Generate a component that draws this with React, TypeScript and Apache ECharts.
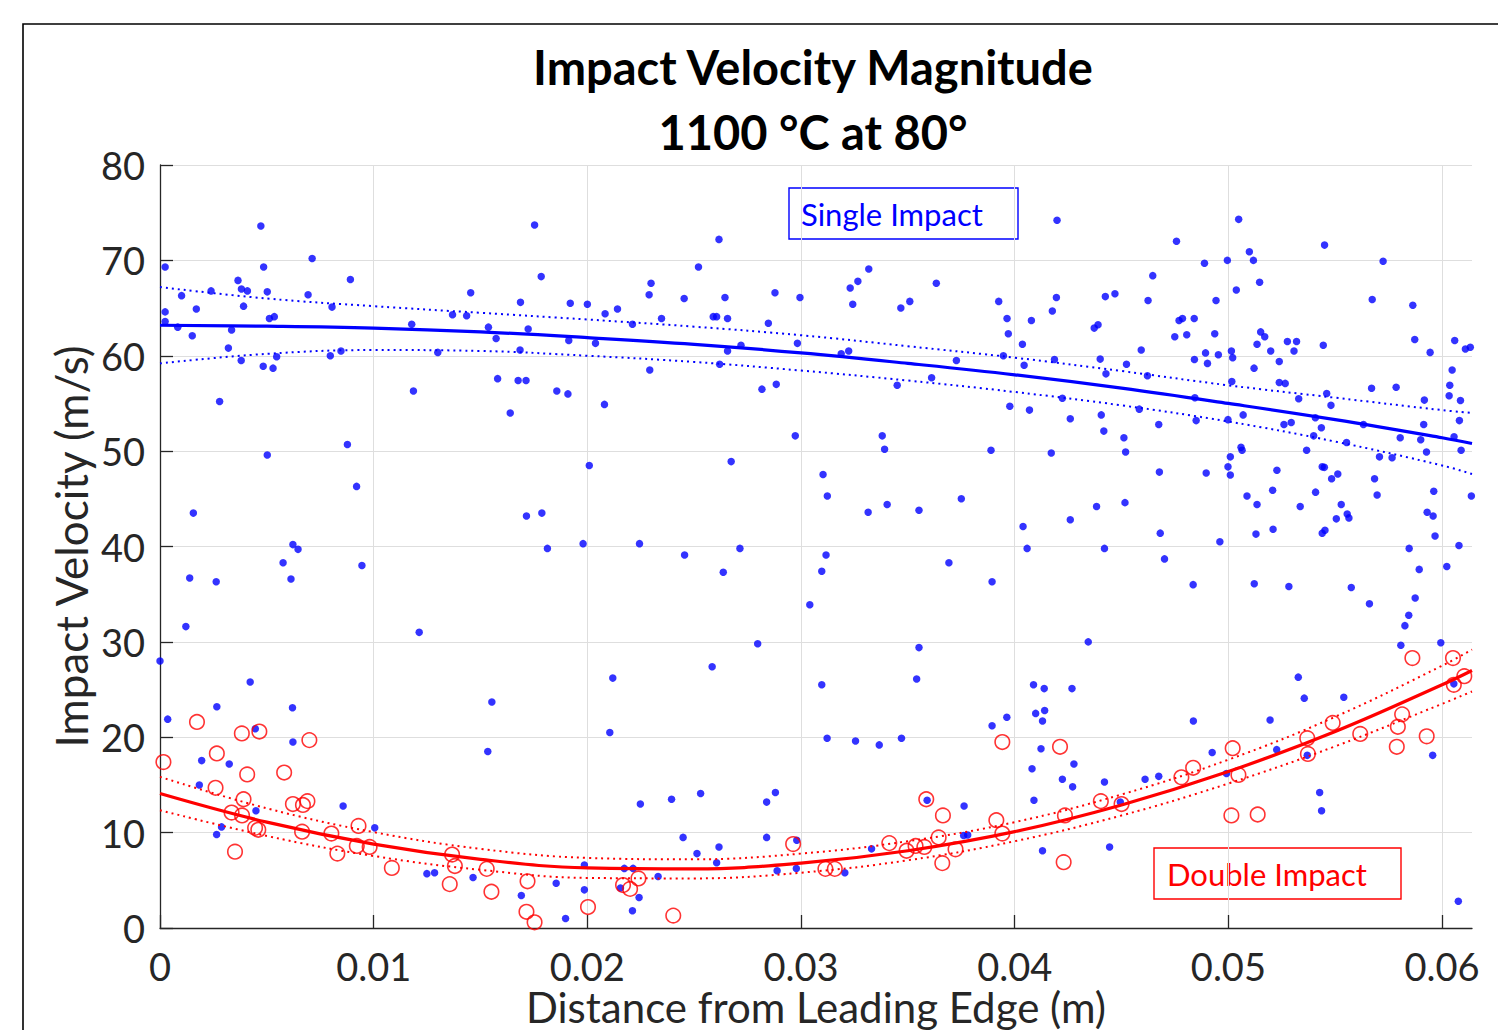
import React, { useEffect, useRef } from "react";
import * as echarts from "echarts";

const titleLines = ["Impact Velocity Magnitude", "1100 °C at 80°"];
const xAxisName = "Distance from Leading Edge (m)";
const yAxisName = "Impact Velocity (m/s)";
const xTicks = [0, 0.01, 0.02, 0.03, 0.04, 0.05, 0.06];
const xMax = 0.0614;
const yMax = 80;

const singleImpact: [number, number][] = [
  [0.00472,73.6],[0.00024,69.3],[0.00712,70.2],[0.00485,69.3],[0.00365,67.9],[0.00891,68.0],[0.00381,67.0],[0.00409,66.8],[0.00239,66.8],[0.00502,66.7],[0.00101,66.3],[0.00693,66.4],[0.00024,64.6],[0.0017,64.9],[0.00391,65.2],[0.00805,65.1],[0.00512,63.9],[0.00535,64.1],[0.00024,63.6],[0.00083,63.0],[0.00151,62.1],[0.00335,62.7],[0.0032,60.8],[0.0038,59.5],[0.00546,59.9],[0.00483,58.9],[0.00529,58.7],[0.00797,60.0],[0.00847,60.5],[0.00279,55.2],[0.00502,49.6],[0.00877,50.7],[0.0092,46.3],[0.00156,43.5],[0.00622,40.2],[0.00646,39.7],[0.01178,63.3],[0.01454,66.6],[0.01369,64.3],[0.01435,64.2],[0.01753,73.7],[0.01784,68.3],[0.01687,65.6],[0.0192,65.5],[0.02,65.4],[0.01537,63.0],[0.01573,61.8],[0.01723,62.8],[0.01913,61.6],[0.02038,61.3],[0.01685,60.6],[0.013,60.35],[0.0158,57.6],[0.01676,57.4],[0.01713,57.4],[0.01857,56.3],[0.01909,56.0],[0.01186,56.3],[0.01639,54.0],[0.02009,48.5],[0.01715,43.2],[0.01787,43.5],[0.01813,39.8],[0.0198,40.3],
  [0.00576,38.3],[0.00945,38.0],[0.00139,36.7],[0.00263,36.3],[0.00613,36.6],[0.00121,31.6],[0.01213,31.0],[0.0,28.0],[0.00422,25.8],[0.00266,23.2],[0.0062,23.1],[0.01553,23.7],[0.00036,21.9],[0.00446,20.9],[0.00622,19.5],[0.01534,18.5],[0.00195,17.55],[0.00324,17.2],[0.00184,15.0],[0.00449,12.3],[0.00857,12.8],[0.00288,10.6],[0.00265,9.8],[0.01005,10.5],[0.01249,5.7],[0.01285,5.8],[0.01465,5.3],[0.01691,3.4],[0.01854,4.7],[0.01986,6.6],[0.01986,4.0],[0.01898,1.0],
  [0.0208,54.9],[0.02083,64.4],[0.02141,64.9],[0.02211,63.3],[0.02289,66.4],[0.02298,67.6],[0.02347,63.9],[0.02292,58.5],[0.02453,66.0],[0.0252,69.3],[0.02616,72.2],[0.02644,66.1],[0.02589,64.1],[0.02605,64.1],[0.02656,63.9],[0.02656,60.5],[0.02719,61.1],[0.02619,59.1],[0.02847,63.4],[0.02878,66.6],[0.02995,66.1],[0.02983,61.3],[0.02817,56.5],[0.02884,57.0],[0.02973,51.6],[0.02673,48.9],[0.02244,40.3],[0.02714,39.8],[0.0323,67.1],[0.03266,67.8],[0.03317,69.1],[0.03242,65.4],[0.03467,65.0],[0.03509,65.7],[0.03633,67.6],[0.03188,60.2],[0.03223,60.5],[0.03727,59.5],[0.0345,56.9],[0.03611,57.7],[0.0338,51.6],[0.03391,50.2],[0.03103,47.55],[0.03123,45.3],[0.03314,43.6],[0.03403,44.4],[0.03552,43.8],[0.0375,45.0],[0.03889,50.1],[0.03925,65.7],[0.03964,63.9],[0.0397,62.3],[0.04078,63.7],[0.04036,61.2],[0.03947,60.0],[0.04044,59.0],[0.03977,54.7],[0.04069,54.3],[0.04039,42.1],[0.04058,39.8],
  [0.02455,39.1],[0.02636,37.3],[0.03117,39.1],[0.03097,37.4],[0.03041,33.9],[0.03692,38.3],[0.03894,36.3],[0.02797,29.8],[0.03552,29.4],[0.02584,27.4],[0.02119,26.2],[0.03097,25.5],[0.03541,26.1],[0.02105,20.5],[0.03122,19.9],[0.03255,19.6],[0.03366,19.2],[0.0347,19.9],[0.03894,21.2],[0.03963,22.1],[0.04088,25.5],[0.04138,25.1],[0.04098,22.5],[0.0413,21.7],[0.0414,22.8],[0.04123,18.8],[0.04081,16.7],[0.0409,13.4],[0.0413,8.1],[0.02248,13.0],[0.02394,13.5],[0.0253,14.1],[0.02839,13.2],[0.0288,14.2],[0.02448,9.5],[0.02513,7.8],[0.02616,8.5],[0.02605,6.85],[0.02839,9.5],[0.02888,6.0],[0.02978,6.25],[0.0298,9.2],[0.02331,5.4],[0.02173,6.25],[0.02214,6.25],[0.02155,4.2],[0.02242,3.2],[0.02211,1.8],[0.03205,5.8],[0.0333,8.3],[0.0359,13.4],[0.03763,12.8],[0.03761,9.7],[0.0378,9.75],
  [0.04198,74.2],[0.05048,74.3],[0.04757,72.0],[0.0545,71.6],[0.04888,69.7],[0.04995,70.0],[0.05098,70.9],[0.05117,70.0],[0.05724,69.9],[0.05146,67.7],[0.04646,68.4],[0.05037,66.9],[0.04195,66.1],[0.04176,64.7],[0.04424,66.2],[0.04469,66.5],[0.04624,65.8],[0.04942,65.8],[0.05673,65.9],[0.05863,65.3],[0.04372,62.9],[0.0439,63.25],[0.04769,63.7],[0.04785,63.9],[0.0484,63.9],[0.04749,62.0],[0.04805,62.2],[0.04936,62.3],[0.05151,62.5],[0.0517,62.0],[0.05134,61.2],[0.05276,61.5],[0.05319,61.5],[0.05307,60.5],[0.05198,60.5],[0.05444,61.1],[0.05872,61.7],[0.05944,60.35],[0.06059,61.6],[0.06109,60.7],[0.06132,60.9],[0.06047,58.5],[0.06036,56.9],[0.06033,55.8],[0.06086,55.3],[0.06081,53.2],[0.06056,51.5],[0.06089,50.1],[0.05917,55.35],[0.05914,52.8],[0.05927,49.9],[0.059,51.2],[0.0567,56.6],[0.05785,56.7],[0.05804,51.4],[0.05707,49.4],[0.05766,49.3],[0.05684,47.1],[0.05696,45.4],[0.05961,45.8],[0.06137,45.3],[0.0593,43.6],[0.05958,43.2],[0.05967,41.1],[0.06079,40.1],[0.05846,39.8],
  [0.04186,59.6],[0.044,59.65],[0.04427,58.1],[0.04523,59.1],[0.04592,60.6],[0.04621,57.9],[0.04841,59.6],[0.04893,60.3],[0.04902,59.2],[0.04953,60.1],[0.05014,60.5],[0.0502,59.8],[0.05016,57.3],[0.0512,58.7],[0.05238,59.4],[0.05238,57.2],[0.05266,57.1],[0.05329,55.5],[0.0546,56.05],[0.0548,54.8],[0.04843,55.6],[0.04223,55.55],[0.0426,53.4],[0.04405,53.8],[0.04417,52.1],[0.04511,51.4],[0.04519,49.9],[0.04583,54.4],[0.04674,52.8],[0.04849,53.2],[0.04998,53.3],[0.05069,53.8],[0.0526,52.8],[0.05294,53.0],[0.05407,53.5],[0.05435,52.45],[0.05399,51.6],[0.05366,50.1],[0.05553,50.9],[0.05632,52.8],[0.04171,49.8],[0.04677,47.8],[0.04896,47.7],[0.05009,49.4],[0.05059,50.4],[0.05064,50.1],[0.04998,48.35],[0.05009,47.5],[0.05227,48.0],[0.05439,48.35],[0.05449,48.3],[0.05483,47.1],[0.05512,47.6],[0.05087,45.3],[0.05134,44.4],[0.05207,45.9],[0.05408,45.7],[0.05528,44.4],[0.05556,43.4],[0.05564,43.0],[0.05505,42.9],[0.05336,44.2],[0.05439,41.4],[0.05452,41.7],[0.05129,41.3],[0.05209,41.8],[0.0496,40.5],[0.04681,41.4],[0.04383,44.2],[0.04516,44.6],[0.0426,42.8],[0.0442,39.8],
  [0.04701,38.7],[0.04835,36.0],[0.05121,36.1],[0.05283,35.8],[0.05575,35.7],[0.0566,34.0],[0.05893,37.6],[0.05874,34.6],[0.05844,32.8],[0.05826,31.7],[0.05807,29.65],[0.06022,37.9],[0.04344,30.0],[0.04268,25.1],[0.04836,21.7],[0.05195,21.8],[0.05327,26.3],[0.05355,24.1],[0.0554,24.2],[0.05994,29.9],[0.06055,25.6],[0.04277,17.2],[0.04223,15.6],[0.04271,14.8],[0.0442,15.3],[0.0461,15.6],[0.04674,15.9],[0.04924,18.4],[0.04991,16.2],[0.05226,18.7],[0.05369,18.1],[0.05427,14.2],[0.05436,12.3],[0.05956,18.1],[0.04494,13.2],[0.04444,8.5],[0.06076,2.8],
];

const doubleImpact: [number, number][] = [
  [0.00016,17.4],[0.00173,21.6],[0.00383,20.4],[0.00465,20.6],[0.00699,19.7],[0.00266,18.3],[0.00408,16.1],[0.00581,16.3],[0.0026,14.7],[0.00391,13.5],[0.00335,12.1],[0.00384,11.8],[0.00445,10.5],[0.0046,10.3],[0.00622,13.0],[0.00669,12.9],[0.0069,13.3],[0.00351,8.0],[0.00665,10.1],[0.00802,9.9],[0.00929,10.7],[0.0083,7.8],[0.00921,8.6],[0.00981,8.5],[0.01085,6.3],[0.01367,7.7],[0.0138,6.5],[0.01356,4.6],[0.01529,6.2],[0.01551,3.8],[0.0172,4.9],[0.01715,1.7],[0.01753,0.6],[0.02003,2.2],
  [0.02167,4.5],[0.022,4.1],[0.02239,5.2],[0.02402,1.3],[0.02963,8.8],[0.03114,6.2],[0.03158,6.2],[0.03413,8.9],[0.03494,8.1],[0.03536,8.6],[0.03577,8.5],[0.03644,9.5],[0.03661,6.8],[0.03586,13.5],[0.03664,11.8],[0.03723,8.25],[0.03914,11.3],[0.03942,9.9],[0.03942,19.5],
  [0.04212,19.0],[0.04229,6.9],[0.04235,11.8],[0.04403,13.3],[0.045,13.0],[0.0478,15.8],[0.04835,16.8],[0.0502,18.85],[0.05047,16.05],[0.05014,11.8],[0.05137,11.9],[0.05369,19.9],[0.05372,18.25],[0.05488,21.5],[0.05617,20.35],[0.05788,19.0],[0.05793,21.1],[0.05813,22.4],[0.05928,20.1],[0.05861,28.3],[0.06051,28.3],[0.06055,25.5],[0.06104,26.4],
];

const fitX = [0, 0.005, 0.01, 0.015, 0.02, 0.025, 0.03, 0.035, 0.04, 0.045, 0.05, 0.055, 0.06, 0.0614];
const singleFit = [63.2, 63.1, 62.9, 62.5, 61.9, 61.2, 60.3, 59.2, 58.0, 56.6, 55.0, 53.3, 51.4, 50.8];
const singleUpper = [67.2, 66.0, 65.2, 64.5, 63.8, 63.05, 62.15, 61.0, 59.8, 58.4, 56.9, 55.6, 54.3, 54.0];
const singleLower = [59.2, 60.2, 60.6, 60.5, 60.0, 59.35, 58.45, 57.4, 56.2, 54.8, 53.1, 51.0, 48.5, 47.6];
const doubleFit = [14.1, 11.1, 8.8, 7.2, 6.3, 6.2, 6.8, 8.1, 10.1, 12.9, 16.4, 20.6, 25.5, 27.0];
const doubleUpper = [15.85, 12.55, 10.05, 8.3, 7.35, 7.2, 7.8, 9.1, 11.1, 14.0, 17.65, 22.15, 27.5, 29.2];
const doubleLower = [12.35, 9.65, 7.55, 6.1, 5.25, 5.2, 5.8, 7.1, 9.1, 11.8, 15.15, 19.05, 23.5, 24.8];

const labels = { single: "Single Impact", double: "Double Impact" };

const BLUE = "#0000ff";
const RED = "#ff0000";
const AX = "#262626";
const FONT = "Lato, 'Open Sans', sans-serif";

const pair = (xs: number[], ys: number[]) => xs.map((x, i) => [x, ys[i]]);

export default function App() {
  const ref = useRef<HTMLDivElement>(null);
  useEffect(() => {
    if (!ref.current) return;
    const chart = echarts.init(ref.current, undefined, { renderer: "svg" });
    const fitLine = (name: string, data: number[], color: string, dotted: boolean) => ({
      name,
      type: "line",
      data: pair(fitX, data),
      smooth: 0.4,
      symbol: "none",
      silent: true,
      z: 4,
      lineStyle: dotted
        ? { color, width: 2, type: [2, 4] }
        : { color, width: 3.2, type: "solid" },
    });
    chart.setOption({
      animation: false,
      backgroundColor: "#ffffff",
      title: {
        text: titleLines.join("\n"),
        left: 808,
        top: 29,
        textAlign: "center",
        textStyle: {
          fontFamily: FONT,
          fontWeight: "bold",
          fontSize: 47,
          lineHeight: 65,
          color: "#000",
        },
      },
      grid: {
        left: 160,
        top: 165,
        right: 26,
        bottom: 102,
        containLabel: false,
        outerBoundsMode: "none",
      },
      xAxis: {
        type: "value",
        min: 0,
        max: xMax,
        name: xAxisName,
        nameLocation: "middle",
        nameGap: 58,
        nameMoveOverlap: false,
        nameTextStyle: { fontFamily: FONT, fontSize: 42, lineHeight: 42, color: AX },
        axisLine: { show: true, lineStyle: { color: AX, width: 1.3 } },
        axisTick: { show: true, inside: true, length: 13, customValues: xTicks, lineStyle: { color: AX, width: 1.3 } },
        axisLabel: {
          customValues: xTicks,
          formatter: (v: number) => (v === 0 ? "0" : v.toFixed(2)),
          fontFamily: FONT,
          fontSize: 38,
          lineHeight: 38,
          color: AX,
          margin: 19,
        },
        splitLine: { show: true, lineStyle: { color: "#dedede", width: 1 } },
      },
      yAxis: {
        type: "value",
        min: 0,
        max: yMax,
        interval: 10,
        name: yAxisName,
        nameLocation: "middle",
        nameGap: 67,
        nameMoveOverlap: false,
        nameTextStyle: { fontFamily: FONT, fontSize: 44, color: AX },
        axisLine: { show: true, lineStyle: { color: AX, width: 1.3 } },
        axisTick: { show: true, inside: true, length: 13, lineStyle: { color: AX, width: 1.3 } },
        axisLabel: { fontFamily: FONT, fontSize: 38, color: AX, margin: 15 },
        splitLine: { show: true, lineStyle: { color: "#dedede", width: 1 } },
      },
      series: [
        {
          name: labels.single,
          type: "scatter",
          data: singleImpact,
          symbol: "circle",
          symbolSize: 7.5,
          itemStyle: { color: BLUE },
          z: 2,
        },
        {
          name: labels.double,
          type: "scatter",
          data: doubleImpact,
          symbol: "circle",
          symbolSize: 14.5,
          itemStyle: { color: "rgba(0,0,0,0)", borderColor: RED, borderWidth: 1.6 },
          z: 3,
        },
        fitLine("singleFit", singleFit, BLUE, false),
        fitLine("singleUpper", singleUpper, BLUE, true),
        fitLine("singleLower", singleLower, BLUE, true),
        fitLine("doubleFit", doubleFit, RED, false),
        fitLine("doubleUpper", doubleUpper, RED, true),
        fitLine("doubleLower", doubleLower, RED, true),
      ],
      graphic: [
        {
          type: "rect",
          shape: { x: 23, y: 24, width: 1500, height: 1100 },
          style: { fill: "none", stroke: "#000", lineWidth: 1.6 },
          silent: true,
        },
        {
          type: "rect",
          shape: { x: 789, y: 188, width: 229, height: 51 },
          style: { fill: "none", stroke: BLUE, lineWidth: 1.4 },
          silent: true,
        },
        {
          type: "text",
          x: 801,
          y: 214,
          style: {
            text: labels.single,
            fill: BLUE,
            fontFamily: FONT,
            fontSize: 31,
            align: "left",
            verticalAlign: "middle",
            textAlign: "left",
            textVerticalAlign: "middle",
          },
          silent: true,
        },
        {
          type: "rect",
          shape: { x: 1154, y: 848, width: 247, height: 51 },
          style: { fill: "none", stroke: RED, lineWidth: 1.4 },
          silent: true,
        },
        {
          type: "text",
          x: 1167,
          y: 874,
          style: {
            text: labels.double,
            fill: RED,
            fontFamily: FONT,
            fontSize: 31,
            align: "left",
            verticalAlign: "middle",
            textAlign: "left",
            textVerticalAlign: "middle",
          },
          silent: true,
        },
      ],
    });
    return () => chart.dispose();
  }, []);
  return (
    <div
      ref={ref}
      style={{ position: "absolute", left: 0, top: 0, width: 1498, height: 1030 }}
    />
  );
}
